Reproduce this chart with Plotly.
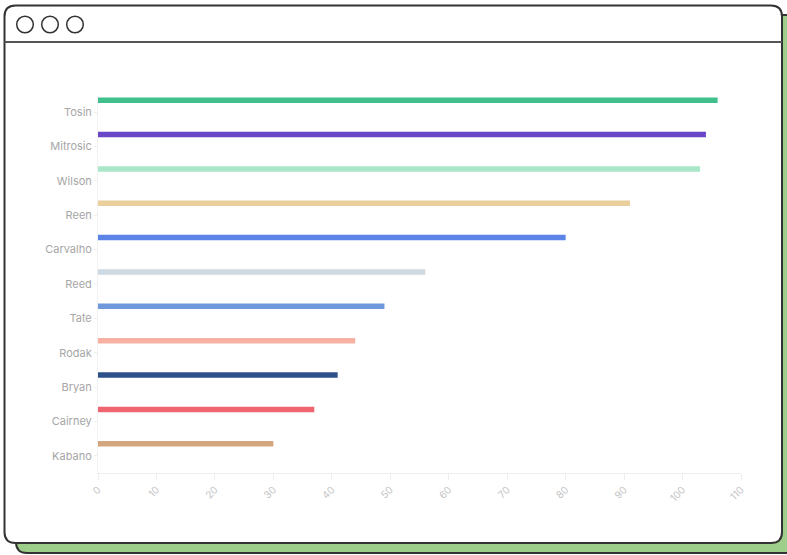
import plotly.graph_objects as go

names = ["Tosin", "Mitrosic", "Wilson", "Reen", "Carvalho", "Reed", "Tate",
         "Rodak", "Bryan", "Cairney", "Kabano"]
values = [106, 104, 103, 91, 80, 56, 49, 44, 41, 37, 30]
colors = ["#3fbf8b", "#6a45c8", "#a9e7c8", "#e8cf9c", "#5b84e6", "#cfd9e1",
          "#6f98dd", "#f7b1a2", "#2d5188", "#f0646f", "#d3a67e"]
x_ticks = [0, 10, 20, 30, 40, 50, 60, 70, 80, 90, 100, 110]

W, H = 787, 555


def px(x):
    return x / W


def py(y):
    return 1 - y / H


def rrect(x0, y0, x1, y1, r):
    pts = [
        f"M {px(x0 + r)},{py(y0)}",
        f"L {px(x1 - r)},{py(y0)}",
        f"Q {px(x1)},{py(y0)} {px(x1)},{py(y0 + r)}",
        f"L {px(x1)},{py(y1 - r)}",
        f"Q {px(x1)},{py(y1)} {px(x1 - r)},{py(y1)}",
        f"L {px(x0 + r)},{py(y1)}",
        f"Q {px(x0)},{py(y1)} {px(x0)},{py(y1 - r)}",
        f"L {px(x0)},{py(y0 + r)}",
        f"Q {px(x0)},{py(y0)} {px(x0 + r)},{py(y0)}",
        "Z",
    ]
    return " ".join(pts)


shapes = [
    dict(type="path", xref="paper", yref="paper", layer="below",
         path=rrect(16, 15, 800, 553, 11),
         fillcolor="#9dcf8b", line=dict(color="#333333", width=2)),
    dict(type="path", xref="paper", yref="paper", layer="below",
         path=rrect(4.5, 5.5, 782, 543, 11),
         fillcolor="#ffffff", line=dict(color="#333333", width=2)),
    dict(type="line", xref="paper", yref="paper", layer="below",
         x0=px(4.5), x1=px(782), y0=py(42), y1=py(42),
         line=dict(color="#555555", width=2)),
]
for cx in (25, 50, 75):
    shapes.append(dict(type="circle", xref="paper", yref="paper", layer="below",
                       x0=px(cx - 8.3), x1=px(cx + 8.3),
                       y0=py(24.5 - 8.3), y1=py(24.5 + 8.3),
                       fillcolor="#ffffff", line=dict(color="#333333", width=1.5)))

fig = go.Figure(go.Bar(
    x=values, y=names, orientation="h",
    marker=dict(color=colors, line=dict(width=0)),
    offset=-0.43, width=0.16,
    hoverinfo="x+y",
))

fig.update_layout(
    width=W, height=H,
    margin=dict(l=0, r=0, t=0, b=0),
    paper_bgcolor="rgba(0,0,0,0)",
    plot_bgcolor="rgba(0,0,0,0)",
    showlegend=False,
    shapes=shapes,
    font=dict(family="Inter, Roboto, sans-serif"),
    xaxis=dict(
        domain=[px(98), px(741)],
        range=[0, 110], tickvals=x_ticks, ticktext=[str(t) for t in x_ticks],
        showgrid=False, zeroline=False,
        showline=True, linecolor="#eeeeee", linewidth=1,
        ticks="outside", ticklen=6, tickcolor="#eeeeee",
        tickangle=-45, tickfont=dict(size=10, color="#c4c4c4"),
        automargin=False, fixedrange=True,
    ),
    yaxis=dict(
        domain=[py(473), py(95)],
        type="category", categoryorder="array", categoryarray=names,
        range=[10.5, -0.5],
        showgrid=False, zeroline=False,
        showline=True, linecolor="#f2f2f2", linewidth=1,
        ticks="outside", ticklen=3, tickcolor="#eeeeee",
        tickfont=dict(size=11, color="#a6a6a6"),
        automargin=False, fixedrange=True,
    ),
)

fig.write_html("out.html")
